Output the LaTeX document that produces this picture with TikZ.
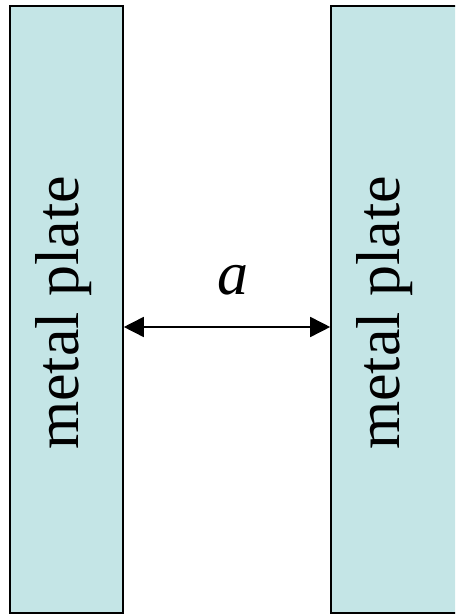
\documentclass[tikz,border=0pt]{standalone}
\usepackage{fontspec}
\setmainfont{Liberation Serif}
\usetikzlibrary{arrows.meta,positioning}
\definecolor{platecyan}{RGB}{196,229,230}
\tikzset{
  plate/.style={draw,rectangle,line width=1.6pt,fill=platecyan,inner sep=0pt,minimum height=607pt},
  platetxt/.style={rotate=90,font=\fontsize{62}{70}\selectfont},
  dimarr/.style={{Triangle[length=20pt,width=20pt]}-{Triangle[length=20pt,width=20pt]},line width=1.6pt},
  lbl/.style={font=\fontsize{62}{70}\selectfont\itshape,inner sep=0pt}
}
\begin{document}
\begin{tikzpicture}[x=1pt,y=1pt]
  \useasboundingbox (0,0) rectangle (455,615);
  \clip (0,0) rectangle (455,615);
  % Plates
  \node[plate, minimum width=113pt] (lplate) at (66.5,305.5) {};
  \node[plate, minimum width=139pt] (rplate) at (400.5,305.5) {};
  \node[platetxt] (ltxt) at (64,302) {metal plate};
  \node[platetxt] (rtxt) at (385,302) {metal plate};

  % Gap
  \coordinate (gapy) at (0,288);
  \draw[dimarr] (lplate.east |- gapy) -- (rplate.west |- gapy)
    node[lbl, midway, anchor=base, xshift=6pt, yshift=32pt] (gap) {a};
\end{tikzpicture}
\end{document}
